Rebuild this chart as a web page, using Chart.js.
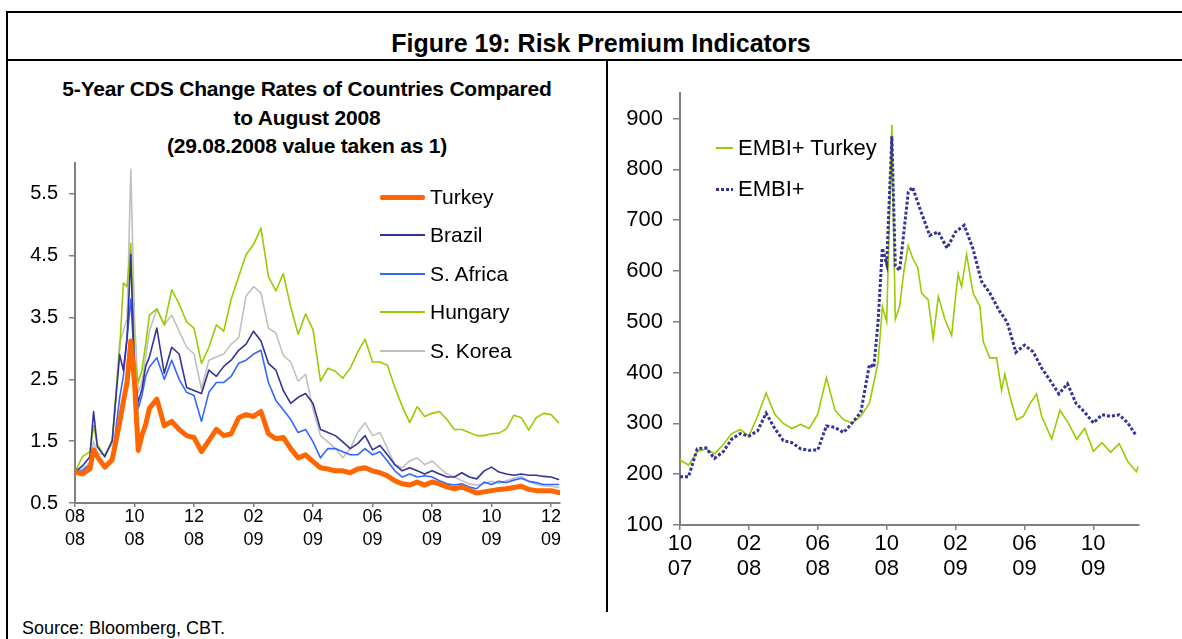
<!DOCTYPE html>
<html><head><meta charset="utf-8">
<script src="https://cdn.jsdelivr.net/npm/chart.js@4.4.1/dist/chart.umd.min.js"></script>
<style>
html,body{margin:0;padding:0;background:#fff;}
body{width:1182px;height:639px;position:relative;overflow:hidden;font-family:"Liberation Sans",Arial,sans-serif;color:#000;}
.abs{position:absolute;}
.line{position:absolute;background:#000;}
.lg{position:absolute;white-space:nowrap;}
.sw{position:absolute;}
</style></head><body>

<div class="line" style="left:6px;top:11px;width:1176px;height:2px"></div>
<div class="line" style="left:6px;top:11px;width:2px;height:628px"></div>
<div class="line" style="left:6px;top:59px;width:1176px;height:2px"></div>
<div class="line" style="left:606px;top:60px;width:1.5px;height:552px"></div>

<div class="abs" style="left:0;width:1202px;top:28px;line-height:30px;text-align:center;font-weight:bold;font-size:25px">Figure 19: Risk Premium Indicators</div>

<div class="abs" style="left:7px;width:600px;top:75px;line-height:28.5px;text-align:center;font-weight:bold;font-size:21px;letter-spacing:-0.2px">5-Year CDS Change Rates of Countries Compared<br>to August 2008<br>(29.08.2008 value taken as 1)</div>

<canvas id="cLeft" width="575" height="440" style="position:absolute;left:0;top:140px"></canvas>
<canvas id="cRight" width="560" height="540" style="position:absolute;left:600px;top:70px"></canvas>

<!-- left legend -->
<div class="sw" style="left:380px;top:194.5px;width:45px;height:5px;background:#ff6600;border-radius:2px"></div>
<div class="lg" style="left:430px;top:184px;font-size:21px;line-height:25px">Turkey</div>
<div class="sw" style="left:380px;top:234px;width:45px;height:2px;background:#333399"></div>
<div class="lg" style="left:430px;top:222px;font-size:21px;line-height:25px">Brazil</div>
<div class="sw" style="left:380px;top:273px;width:45px;height:2px;background:#3366ff"></div>
<div class="lg" style="left:430px;top:261px;font-size:21px;line-height:25px">S. Africa</div>
<div class="sw" style="left:380px;top:311px;width:45px;height:2px;background:#99cc00"></div>
<div class="lg" style="left:430px;top:299px;font-size:21px;line-height:25px">Hungary</div>
<div class="sw" style="left:380px;top:350px;width:45px;height:2px;background:#c0c0c0"></div>
<div class="lg" style="left:430px;top:338px;font-size:21px;line-height:25px">S. Korea</div>

<!-- right legend -->
<div class="sw" style="left:716px;top:147px;width:17px;height:2px;background:#99cc00"></div>
<div class="lg" style="left:738px;top:135px;font-size:22px;line-height:26px">EMBI+ Turkey</div>
<div class="sw" style="left:716px;top:188px;width:17px;height:3px;background:repeating-linear-gradient(to right,#333399 0 3px,transparent 3px 5px)"></div>
<div class="lg" style="left:738px;top:176px;font-size:22px;line-height:26px">EMBI+</div>

<div class="abs" style="left:22px;top:617px;font-size:18px;line-height:22px">Source: Bloomberg, CBT.</div>

<script>
// ---------- Left chart data: months since end-August 2008 ----------
const leftMonths = [0,0.25,0.5,0.625,0.75,1,1.25,1.5,1.625,1.75,1.875,2,2.125,2.25,2.375,2.5,2.75,3,3.25,3.5,3.75,4,4.25,4.5,4.75,5,5.25,5.5,5.75,6,6.25,6.5,6.75,7,7.25,7.5,7.75,8,8.25,8.5,8.75,9,9.25,9.5,9.75,10,10.25,10.5,10.75,11,11.25,11.5,11.75,12,12.25,12.5,12.75,13,13.25,13.5,13.75,14,14.25,14.5,14.75,15,15.25,15.5,15.75,16,16.25];
const turkey = [1.00,0.97,1.05,1.36,1.25,1.08,1.20,1.80,2.14,2.45,3.12,2.45,1.35,1.60,1.77,2.03,2.18,1.75,1.82,1.69,1.59,1.56,1.33,1.51,1.69,1.59,1.62,1.88,1.93,1.90,1.98,1.62,1.54,1.56,1.38,1.23,1.28,1.17,1.07,1.05,1.02,1.02,0.99,1.05,1.07,1.02,0.99,0.94,0.86,0.81,0.79,0.84,0.79,0.84,0.81,0.76,0.73,0.76,0.71,0.66,0.68,0.70,0.72,0.73,0.75,0.77,0.72,0.70,0.70,0.70,0.67];
const brazil = [1.00,1.10,1.25,1.98,1.41,1.25,1.51,2.90,2.65,3.17,4.52,2.55,2.14,2.34,2.71,2.86,3.33,2.60,3.02,2.91,2.37,2.32,2.27,2.65,2.55,2.71,2.81,2.97,3.07,3.28,3.12,2.76,2.65,2.32,2.11,2.21,2.27,2.11,1.69,1.64,1.59,1.49,1.38,1.46,1.59,1.36,1.43,1.28,1.12,1.02,1.07,1.02,0.97,1.02,0.97,0.92,0.92,0.99,0.92,0.89,1.02,1.08,1.00,0.97,0.95,0.97,0.95,0.95,0.93,0.92,0.88];
const sAfrica = [1.00,1.02,1.12,1.35,1.25,1.10,1.20,2.20,2.55,3.17,3.80,2.71,2.03,2.24,2.55,2.70,2.85,2.50,2.81,2.50,2.29,2.24,1.82,2.29,2.45,2.45,2.55,2.76,2.81,2.91,2.97,2.45,2.16,2.01,1.85,1.64,1.69,1.49,1.23,1.38,1.38,1.33,1.28,1.28,1.38,1.28,1.33,1.18,1.02,0.92,0.97,0.92,0.94,0.92,0.86,0.81,0.79,0.81,0.76,0.73,0.84,0.80,0.85,0.83,0.87,0.90,0.85,0.83,0.80,0.80,0.80];
const hungary = [1.00,1.25,1.33,1.75,1.45,1.25,1.51,2.97,4.06,4.00,4.70,2.86,2.45,2.65,3.07,3.54,3.64,3.38,3.95,3.72,3.43,3.33,2.76,3.02,3.38,3.28,3.80,4.16,4.52,4.68,4.95,4.16,3.93,4.21,3.67,3.23,3.56,3.30,2.47,2.68,2.63,2.52,2.68,2.94,3.15,2.78,2.78,2.73,2.37,2.06,1.80,2.06,1.90,1.95,1.98,1.85,1.69,1.69,1.64,1.59,1.59,1.62,1.63,1.70,1.92,1.88,1.68,1.88,1.95,1.93,1.80];
const sKorea = [1.00,1.05,1.15,1.50,1.30,1.28,1.45,3.10,3.28,3.49,5.90,3.49,2.29,2.45,2.86,3.28,3.64,3.38,3.54,3.28,3.02,2.91,2.34,2.81,2.86,2.91,3.07,3.17,3.85,4.00,3.90,3.33,3.25,2.89,2.78,2.47,2.58,2.01,1.59,1.49,1.38,1.23,1.38,1.64,1.80,1.59,1.64,1.38,1.12,1.07,1.18,1.23,1.12,1.18,1.07,0.97,0.92,0.86,0.81,0.79,0.81,0.85,0.82,0.86,0.90,0.93,0.85,0.80,0.78,0.77,0.75];
const leftTickPos = [0,2,4,6,8,10,12,14,16];
const leftTickMonth = ['08','10','12','02','04','06','08','10','12'];
const leftTickYear = ['08','08','08','09','09','09','09','09','09'];
const leftYTicks = [0.5,1.5,2.5,3.5,4.5,5.5];

// ---------- Right chart data: months since October 2007, spreads (bp) ----------
const embiTurkeyMonths = [0,0.5,1,1.5,2,2.5,3,3.5,4,4.5,5,5.5,6,6.5,7,7.5,8,8.5,9,9.5,10,10.5,11,11.25,11.5,11.75,12,12.3,12.5,12.75,13,13.25,13.5,13.8,14.03,14.41,14.7,15.0,15.38,15.77,16.0,16.15,16.35,16.64,16.83,17.02,17.41,17.61,17.99,18.38,18.67,18.86,19.16,19.54,19.93,20.32,20.7,21.0,21.58,22.06,22.54,23.03,23.5,24,24.5,25,25.5,26,26.5,26.6];
const embiTurkey = [228,218,244,250,240,258,280,288,275,314,360,318,300,290,298,290,318,390,326,307,301,314,340,380,420,530,500,888,505,530,600,650,626,607,556,543,467,550,505,473,550,594,569,633,594,556,531,460,429,429,365,397,352,307,314,339,358,314,269,326,301,269,290,245,262,243,260,225,205,215];
const embiMonths = [0,0.5,1,1.5,2,2.5,3,3.5,4,4.5,5,5.5,6,6.5,7,7.5,8,8.5,9,9.5,10,10.5,11,11.25,11.5,11.75,12,12.3,12.5,12.75,13,13.25,13.5,14,14.5,15,15.5,16,16.5,17,17.5,18,18.5,19,19.5,20,20.5,21,21.5,22,22.5,23,23.5,24,24.5,25,25.5,26,26.5];
const embi = [195,195,250,252,231,244,269,280,275,285,320,290,266,262,250,247,248,295,292,282,301,322,416,410,500,645,614,865,610,601,677,755,765,716,670,677,645,677,690,645,580,556,524,499,440,454,441,409,384,358,378,339,322,301,317,314,317,301,275];
const rightTickPos = [0,4,8,12,16,20,24];
const rightTickMonth = ['10','02','06','10','02','06','10'];
const rightTickYear = ['07','08','08','08','09','09','09'];
const rightYTicks = [100,200,300,400,500,600,700,800,900];

const FONT = 'Liberation Sans';
const AXIS = '#808080';

function pts(xs, ys){ return xs.map((x,i)=>({x:x, y:ys[i]})); }

function makeScales(o){
  return {
    x: {
      type:'linear', min:o.xmin, max:o.xmax,
      afterBuildTicks: s => { s.ticks = o.xt.map(v=>({value:v})); },
      afterFit: s => { s.height = o.xh; },
      border:{display:true,color:AXIS,width:2},
      grid:{display:true,drawOnChartArea:false,drawTicks:true,tickLength:o.xtl,color:AXIS,lineWidth:1.5},
      ticks:{autoSkip:false,maxRotation:0,padding:o.xpad,color:'#000',
        font:{family:FONT,size:o.xfs,lineHeight:o.xlh},
        callback: v => { const i = o.xt.indexOf(v); return i<0 ? '' : [o.xm[i], o.xy[i]]; }}
    },
    y: {
      type:'linear', min:o.ymin, max:o.ymax,
      afterBuildTicks: s => { s.ticks = o.yt.map(v=>({value:v})); },
      afterFit: s => { s.width = o.yw; },
      border:{display:true,color:AXIS,width:2},
      grid:{display:true,drawOnChartArea:false,drawTicks:true,tickLength:o.ytl,color:AXIS,lineWidth:1.5},
      ticks:{padding:o.ypad,color:'#000',font:{family:FONT,size:o.yfs},
        callback: v => o.yfmt(v)}
    }
  };
}

const commonPlugins = {legend:{display:false},tooltip:{enabled:false},title:{display:false}};

new Chart(document.getElementById('cLeft'), {
  type:'line',
  data:{datasets:[
    {label:'Turkey',data:pts(leftMonths,turkey),borderColor:'#ff6600',borderWidth:5,order:0},
    {label:'Brazil',data:pts(leftMonths,brazil),borderColor:'#333399',borderWidth:1.6,order:1},
    {label:'S. Africa',data:pts(leftMonths,sAfrica),borderColor:'#3366ff',borderWidth:1.6,order:2},
    {label:'Hungary',data:pts(leftMonths,hungary),borderColor:'#99cc00',borderWidth:1.6,order:3},
    {label:'S. Korea',data:pts(leftMonths,sKorea),borderColor:'#c0c0c0',borderWidth:1.6,order:4}
  ]},
  options:{
    responsive:false, animation:false, devicePixelRatio:1,
    elements:{point:{radius:0},line:{tension:0,borderJoinStyle:'round',borderCapStyle:'round'}},
    layout:{padding:{left:0,right:15,top:10,bottom:0}},
    plugins:commonPlugins,
    scales: makeScales({xmin:0,xmax:16.3,xt:leftTickPos,xm:leftTickMonth,xy:leftTickYear,xh:77,xtl:4,xpad:-1,xfs:18,xlh:1.26,
      ymin:0.5,ymax:6.0,yt:leftYTicks,yw:75,ytl:6,ypad:11,yfs:20,yfmt:v=>v.toFixed(1)})
  }
});

new Chart(document.getElementById('cRight'), {
  type:'line',
  data:{datasets:[
    {label:'EMBI+ Turkey',data:pts(embiTurkeyMonths,embiTurkey),borderColor:'#99cc00',borderWidth:1.6,order:1},
    {label:'EMBI+',data:pts(embiMonths,embi),borderColor:'#333399',borderWidth:3,borderDash:[3,2],order:0}
  ]},
  options:{
    responsive:false, animation:false, devicePixelRatio:1,
    elements:{point:{radius:0},line:{tension:0}},
    layout:{padding:{left:0,right:21,top:11,bottom:0}},
    plugins:commonPlugins,
    scales: makeScales({xmin:0,xmax:26.65,xt:rightTickPos,xm:rightTickMonth,xy:rightTickYear,xh:85,xtl:5,xpad:1.5,xfs:22,xlh:1.14,
      ymin:100,ymax:950,yt:rightYTicks,yw:80,ytl:7,ypad:10,yfs:22,yfmt:v=>String(v)})
  }
});
</script>
</body></html>
